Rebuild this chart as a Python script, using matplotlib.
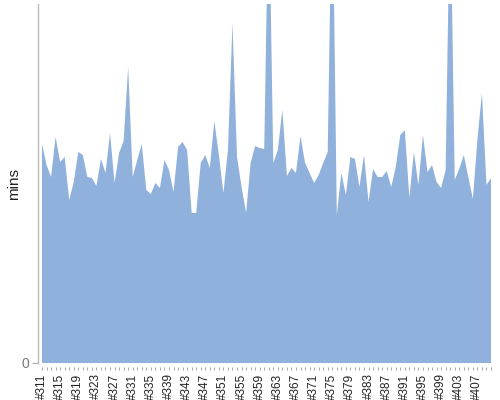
"""Area chart of minutes per build (#311 - #410)."""
import matplotlib
matplotlib.use("Agg")
import matplotlib.pyplot as plt
from matplotlib.ticker import MultipleLocator, FixedLocator
import numpy as np

# build numbers and values (arbitrary mins scale)
builds = list(range(311, 411))
mins = [
    219, 198, 186, 226, 201, 206, 163, 181, 211, 208,
    186, 185, 177, 204, 190, 230, 180, 210, 222, 296,
    186, 203, 219, 173, 169, 180, 175, 203, 193, 171,
    216, 221, 213, 150, 150, 200, 208, 195, 242, 208,
    170, 213, 340, 206, 176, 150, 200, 217, 215, 214,
    480, 200, 213, 253, 187, 195, 190, 227, 200, 190,
    180, 188, 200, 211, 500, 148, 190, 168, 206, 204,
    176, 208, 161, 194, 186, 186, 192, 176, 196, 228,
    233, 165, 211, 178, 228, 191, 198, 181, 175, 193,
    480, 183, 194, 208, 186, 164, 223, 270, 178, 185,
]
label_builds = list(range(311, 408, 4))
y_max = 359

plt.rcParams["font.family"] = ["Liberation Sans", "DejaVu Sans"]

fig = plt.figure(figsize=(5, 4), dpi=100)
ax = fig.add_axes([0.076, 0.0925, 0.906, 0.8975])

ax.fill_between(builds, mins, 0, color="#8fb1db", lw=0, zorder=2)

ax.set_xlim(311 - 4 / 4.54, 410)
ax.set_ylim(0, y_max)

# axes styling
for s in ("top", "right"):
    ax.spines[s].set_visible(False)
ax.spines["left"].set_color("#bbbbbb")
ax.spines["left"].set_linewidth(1.0)
ax.spines["bottom"].set_position(("outward", 3))
ax.spines["bottom"].set_visible(False)

ax.xaxis.set_major_locator(FixedLocator(label_builds))
ax.xaxis.set_minor_locator(MultipleLocator(1))
ax.set_xticklabels(["#%d" % b for b in label_builds], rotation=90,
                   fontsize=8.5, color="#222222")
ax.tick_params(axis="x", which="both", length=2.5, width=0.6,
               color="#999999", pad=2)

ax.set_yticks([0])
ax.set_yticklabels(["0"], fontsize=10, color="#777777")
ax.tick_params(axis="y", length=4, width=0.8, color="#aaaaaa", pad=2)
ax.set_ylabel("mins", fontsize=11, color="#222222")
ax.yaxis.set_label_coords(-0.037, 0.5)

fig.savefig("out.png", dpi=100)
plt.close(fig)
